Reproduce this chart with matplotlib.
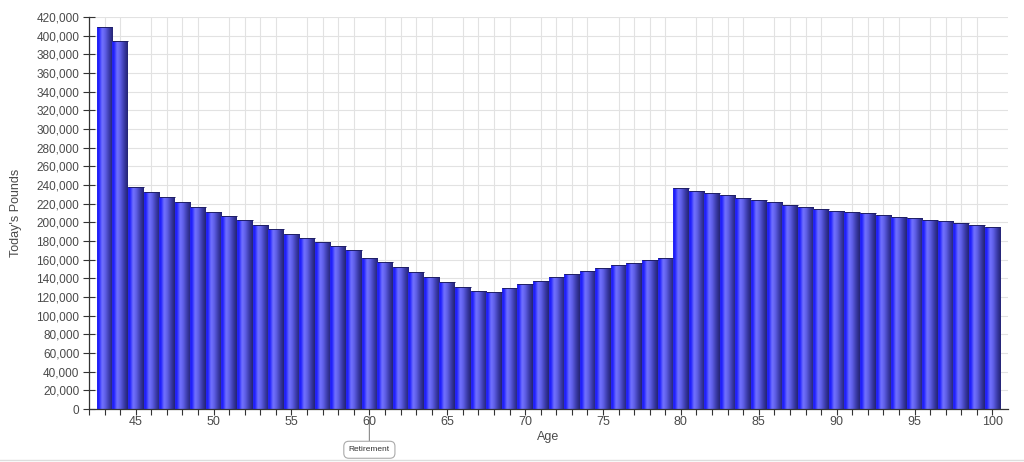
import matplotlib
matplotlib.use("Agg")
import matplotlib.pyplot as plt
import numpy as np
from matplotlib.colors import LinearSegmentedColormap
from matplotlib.lines import Line2D

plt.rcParams['font.family'] = ['Liberation Sans', 'DejaVu Sans']

ages = list(range(43, 101))
values = [409000, 394000, 238000, 232500, 227000, 222000, 216500, 211000, 207000, 202500,
          197000, 193000, 187500, 183000, 179000, 174500, 170000, 162000, 157500, 152000,
          147000, 141500, 136400, 131000, 126400, 125700, 130000, 133900, 137500, 141400,
          144600, 147500, 150700, 154000, 156400, 159300, 161400, 237000, 233500, 231000,
          229000, 226000, 224000, 222000, 218500, 216500, 214000, 212000, 211000, 210000,
          208000, 206000, 204500, 202500, 201500, 199500, 197000, 195000]
y_ticks = list(range(0, 420001, 20000))
x_major = [45, 50, 55, 60, 65, 70, 75, 80, 85, 90, 95, 100]
x_label = "Age"
y_label = "Today's Pounds"
annotation_text = "Retirement"
annotation_age = 60

fig = plt.figure(figsize=(10.24, 4.62), dpi=100)
ax = fig.add_axes([89/1024, 53/462, (1008-89)/1024, (409-17)/462])

cmap = LinearSegmentedColormap.from_list("cyl", [
    (0.0, (0.16, 0.16, 0.92)),
    (0.1, (0.1, 0.1, 1.0)),
    (0.32, (0.45, 0.45, 1.0)),
    (0.5, (0.38, 0.38, 0.92)),
    (0.75, (0.24, 0.24, 0.68)),
    (1.0, (0.14, 0.14, 0.45)),
])
grad = np.linspace(0, 1, 64).reshape(1, -1)

bars = ax.bar(ages, values, width=1.0, color='none', edgecolor='none', zorder=2)
for b in bars:
    x0, y0 = b.get_x(), b.get_y()
    w, h = b.get_width(), b.get_height()
    im = ax.imshow(grad, cmap=cmap, aspect='auto', extent=[x0, x0 + w, y0, y0 + h],
                   zorder=2, interpolation='bicubic')
    im.set_clip_path(b)
    ax.plot([x0, x0 + w], [h, h], color=(0.12, 0.12, 0.4), lw=0.7, zorder=3,
            solid_capstyle='butt')

ax.set_xlim(42.05, 101.0)
ax.set_ylim(0, 420000)
ax.set_yticks(y_ticks)
ax.set_yticklabels([f"{v:,}" for v in y_ticks])
ax.set_xticks(x_major)
ax.set_xticks(ages + [42], minor=True)
ax.tick_params(axis='y', direction='inout', length=8, width=0.8, colors='#333333',
               labelcolor='#4a4a4a', labelsize=8.5, pad=3)
ax.tick_params(axis='x', which='major', direction='out', length=4, width=0.8,
               colors='#333333', labelcolor='#4a4a4a', labelsize=9, pad=1)
ax.tick_params(axis='x', which='minor', direction='out', length=4, width=0.8,
               colors='#333333')
ax.grid(True, which='major', axis='y', color='#e2e2e2', lw=0.8, zorder=0)
ax.grid(True, which='minor', axis='x', color='#e2e2e2', lw=0.8, zorder=0)
ax.set_axisbelow(True)
for s in ['top', 'right']:
    ax.spines[s].set_visible(False)
for s in ['left', 'bottom']:
    ax.spines[s].set_color('#333333')
    ax.spines[s].set_linewidth(0.9)

ax.set_xlabel(x_label, fontsize=9, color='#4a4a4a')
ax.xaxis.set_label_coords(0.5, -(437-409)/392)
ax.xaxis.label.set_va('center')
ax.set_ylabel(y_label, fontsize=9, color='#4a4a4a')
ax.yaxis.set_label_coords(-67/919, 0.5)

ax.annotate(annotation_text, xy=(annotation_age, -0.02), xycoords=('data', 'axes fraction'),
            xytext=(annotation_age, -0.104), textcoords=('data', 'axes fraction'),
            ha='center', va='center', fontsize=6, color='#333333',
            bbox=dict(boxstyle='round,pad=0.6,rounding_size=0.6', fc='white', ec='#aaaaaa', lw=0.8),
            arrowprops=dict(arrowstyle='-', color='#888888', lw=0.8, shrinkA=0, shrinkB=0),
            annotation_clip=False, zorder=0)

fig.add_artist(Line2D([0, 1], [2/462, 2/462], color='#dddddd', lw=1.0))

fig.savefig("out.png", dpi=100, facecolor='white')
